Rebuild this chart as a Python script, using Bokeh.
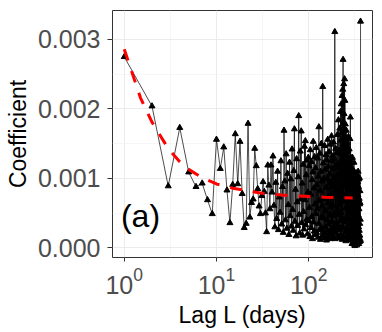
from bokeh.plotting import figure
from bokeh.models import FixedTicker, Range1d, Label, NumeralTickFormatter
from bokeh.embed import file_html
from bokeh.resources import INLINE

# ---- data (coefficients in units of 1e-4) ----
lags = list(range(1, 366))
coef_1e4 = [
    27.5, 20.4, 8.9, 17.3, 10.9, 8.8, 9.3, 6.9, 4.9, 15.6,
    11.4, 14.5, 8.3, 3.6, 9.1, 16.4, 9.2, 15.3, 7.8, 2.9,
    3.5, 17.9, 4.4, 6.5, 7.0, 14.3, 11.8, 8.5, 6.0, 4.9,
    7.5, 9.5, 8.1, 5.0, 2.3, 11.9, 9.0, 5.6, 11.9, 8.0,
    13.2, 6.1, 3.0, 9.4, 4.2, 11.0, 2.6, 7.3, 5.1, 12.5,
    3.4, 8.8, 2.2, 16.9, 9.6, 4.0, 13.5, 2.8, 10.7, 6.2,
    1.9, 12.3, 4.6, 9.9, 3.1, 14.2, 5.5, 2.5, 11.1, 17.1,
    3.8, 8.4, 1.7, 12.8, 6.6, 3.2, 10.2, 19.0, 4.8, 2.1,
    13.9, 7.0, 16.8, 3.6, 9.3, 1.8, 12.0, 5.2, 2.7, 14.6,
    6.9, 15.4, 3.3, 10.5, 4.1, 12.6, 2.0, 8.0, 13.0, 3.9,
    11.8, 5.8, 1.6, 14.1, 7.7, 2.9, 12.4, 4.5, 9.8, 1.3,
    10.9, 15.3, 3.7, 8.6, 2.4, 13.1, 6.3, 1.9, 11.5, 4.9,
    14.4, 2.2, 9.1, 5.6, 12.9, 1.5, 10.3, 3.5, 17.4, 6.8,
    2.6, 13.6, 8.2, 1.2, 11.0, 4.3, 15.0, 2.8, 9.6, 6.0,
    1.7, 23.2, 4.4, 12.2, 2.3, 10.0, 7.1, 1.4, 14.7, 3.0,
    11.3, 5.3, 2.0, 13.4, 8.7, 1.1, 12.7, 4.0, 9.9, 2.5,
    15.6, 6.5, 1.6, 11.7, 3.4, 13.8, 7.4, 2.1, 10.6, 4.7,
    14.9, 1.3, 9.4, 5.9, 12.5, 2.7, 16.1, 3.8, 8.9, 1.8,
    13.2, 6.1, 2.4, 11.4, 4.6, 15.2, 1.5, 10.1, 3.1, 12.8,
    7.6, 31.1, 1.3, 9.7, 5.0, 14.3, 2.2, 11.9, 3.6, 8.3,
    13.7, 2.9, 10.4, 5.5, 16.3, 1.7, 12.0, 7.9, 3.3, 18.4,
    4.8, 11.6, 1.4, 14.0, 8.5, 2.6, 17.2, 6.4, 12.3, 3.9,
    19.6, 1.9, 9.2, 15.5, 5.1, 20.7, 2.8, 13.5, 7.3, 21.9,
    1.2, 16.6, 4.2, 22.8, 10.8, 27.1, 3.0, 18.0, 6.7, 23.6,
    1.6, 19.3, 8.8, 14.8, 24.3, 3.7, 21.2, 11.2, 2.3, 17.8,
    5.7, 15.9, 1.0, 13.3, 7.8, 16.9, 2.5, 12.1, 4.5, 14.6,
    9.0, 1.8, 15.1, 6.0, 11.7, 2.7, 13.9, 4.1, 10.3, 16.0,
    1.3, 12.6, 5.4, 9.5, 14.2, 2.0, 11.0, 7.0, 3.4, 15.7,
    6.2, 1.5, 18.8, 4.9, 10.9, 2.2, 13.0, 8.1, 1.1, 12.2,
    5.0, 9.7, 2.9, 11.5, 0.6, 8.6, 3.6, 13.0, 1.4, 10.0,
    4.3, 7.5, 0.9, 11.2, 2.6, 9.1, 5.8, 1.2, 10.6, 12.3,
    3.2, 7.9, 0.5, 9.8, 4.4, 1.7, 0.3, 8.4, 2.4, 10.2,
    5.3, 1.0, 9.3, 3.8, 7.2, 0.7, 10.8, 2.1, 6.5, 1.6,
    9.0, 4.0, 0.4, 8.0, 2.8, 10.4, 1.3, 6.9, 3.3, 9.5,
    0.8, 7.6, 2.0, 11.0, 4.7, 1.1, 8.8, 3.0, 0.6, 9.9,
    5.6, 1.5, 7.1, 2.5, 10.1, 0.9, 6.3, 3.5, 1.8, 8.2,
    6.5, 1.2, 4.1, 1.0, 32.6,
]
fit_lags = [1, 1.5, 2, 3, 4, 5, 7, 10, 15, 20, 30, 50, 70, 100, 150, 200, 300]
fit_1e4 = [28.6, 21.6, 18.1, 14.3, 12.4, 11.3, 10.1, 9.2, 8.6, 8.3, 7.9, 7.6, 7.5, 7.4, 7.3, 7.25, 7.2]

y_ticks = [0.0, 0.001, 0.002, 0.003]
y_minor = [0.0005, 0.0015, 0.0025]
x_ticks = [1, 10, 100]
x_minor = [3.1623, 31.623, 316.23]

coef = [v * 1e-4 for v in coef_1e4]
fit = [v * 1e-4 for v in fit_1e4]

FONT = "Liberation Sans"

p = figure(width=382, height=332, x_axis_type="log",
           output_backend="svg", toolbar_location=None,
           x_range=Range1d(0.746, 492), y_range=Range1d(-0.000138, 0.003417),
           min_border_left=112, min_border_right=10, min_border_top=10, min_border_bottom=75)

p.background_fill_color = "white"
p.border_fill_color = "white"
p.outline_line_color = "#333333"
p.outline_line_width = 1

p.line(lags, coef, line_color="black", line_width=0.7)
p.scatter(lags, coef, marker="triangle", size=6, fill_color="black", line_color="black")
p.line(fit_lags, fit, line_color="#FF0000", line_width=3, line_dash="12 11")

p.xaxis.ticker = FixedTicker(ticks=x_ticks, minor_ticks=x_minor)
p.yaxis.ticker = FixedTicker(ticks=y_ticks, minor_ticks=y_minor)
p.yaxis.formatter = NumeralTickFormatter(format="0.000")

for ax in (p.xaxis, p.yaxis):
    ax.axis_line_color = None
    ax.major_tick_line_color = "#333333"
    ax.major_tick_in = 0
    ax.minor_tick_line_color = None
    ax.major_label_text_color = "#4D4D4D"
    ax.major_label_text_font = FONT
    ax.axis_label_text_font = FONT
    ax.axis_label_text_font_style = "normal"
    ax.axis_label_text_color = "black"
    ax.axis_label_text_font_size = "23px"

p.xaxis.major_tick_out = 4
p.yaxis.major_tick_out = 5
p.xaxis.major_label_text_font_size = "25px"
p.yaxis.major_label_text_font_size = "25px"
p.xaxis.major_label_standoff = 5
p.yaxis.major_label_standoff = 7
p.xaxis.axis_label = "Lag L (days)"
p.yaxis.axis_label = "Coefficient"
p.xaxis.axis_label_standoff = 5
p.yaxis.axis_label_standoff = 4

for g in (p.xgrid, p.ygrid):
    g.grid_line_color = "#EBEBEB"
    g.grid_line_width = 1
    g.minor_grid_line_color = "#F2F2F2"
    g.minor_grid_line_width = 0.7

p.add_layout(Label(x=0.921, y=0.00046, text="(a)", text_font=FONT, text_font_size="32px",
                   text_color="black", text_align="left", text_baseline="alphabetic"))

open("out.html", "w").write(file_html(p, INLINE))
